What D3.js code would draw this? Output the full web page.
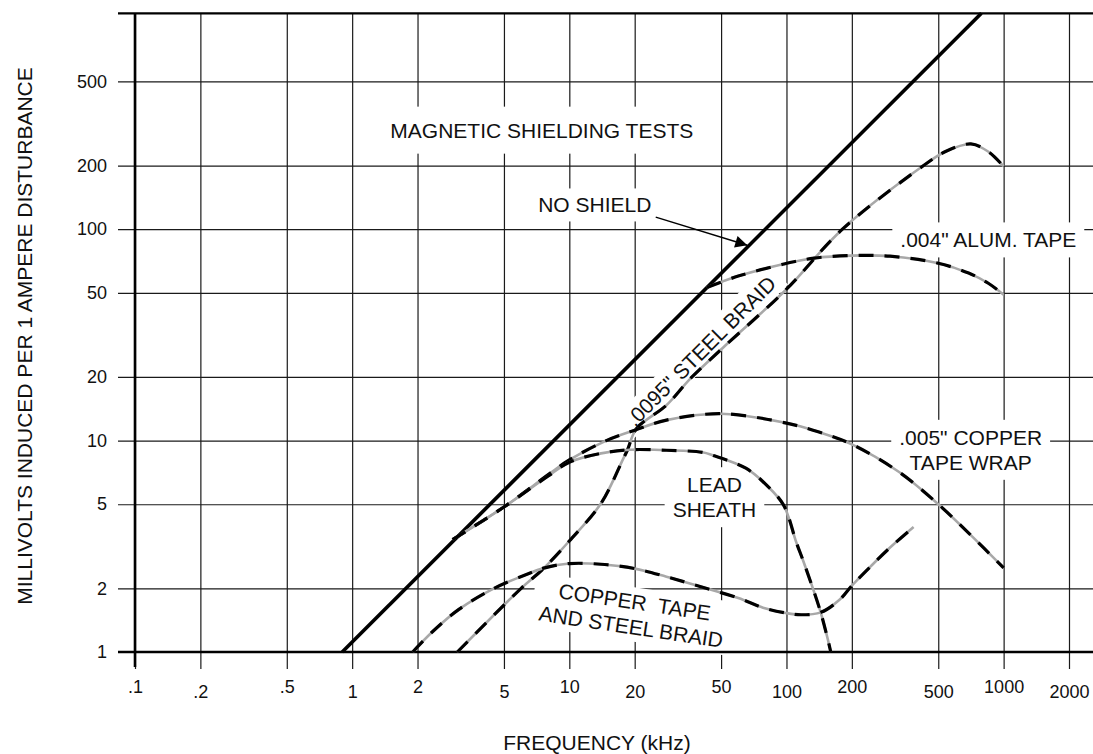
<!DOCTYPE html>
<html><head><meta charset="utf-8">
<script src="https://cdn.jsdelivr.net/npm/d3@7"></script>
<style>
html,body{margin:0;padding:0;background:#fff;}
svg{display:block;font-family:"Liberation Sans",Arial,Helvetica,sans-serif;}
</style></head><body>
<svg id="chart" width="1093" height="754"></svg>
<script>
// ---------- data (kHz, mV per 1 A disturbance) ----------
const xTicks = [0.1,0.2,0.5,1,2,5,10,20,50,100,200,500,1000,2000];
const xTickLabels = [".1",".2",".5","1","2","5","10","20","50","100","200","500","1000","2000"];
const yTicks = [1,2,5,10,20,50,100,200,500];
const yTickLabels = ["1","2","5","10","20","50","100","200","500"];

const noShield = [[0.9,1],[790,1050]];
const steelBraid = [[3.05,1],[6,2],[7.5,2.45],[10,3.35],[14,5.05],[17.7,8.2],[18.5,9.0],[20.4,11.4],[28,14.7],[36,19.6],[52,28],[100,52],[181,100],[428,200],[540,233],[707,253],[848,233],[1000,198]];
const alumTape = [[43,53],[60,60],[95,68],[134,73],[200,75],[300,74.5],[500,69],[690,62],[850,55.5],[1000,49]];
const copperWrap = [[2.9,3.4],[5,4.85],[8,6.9],[10,8.1],[14.8,10],[20,11.2],[28,12.5],[50,13.4],[100,12.1],[140,11],[200,9.6],[330,7.1],[500,5.0],[700,3.6],[1000,2.5]];
const leadSheath = [[2.9,3.4],[5,4.85],[8,6.8],[10,7.9],[14,8.7],[19,9.05],[28,9.0],[41,8.8],[46,8.5],[65,7.4],[81,6.15],[97,4.95],[111,3.3],[121,2.6],[144,1.53],[160,1.0]];
const copperSteel = [[1.9,1],[2.35,1.25],[3.1,1.59],[4.5,2.0],[6.3,2.32],[7.7,2.5],[10,2.62],[14,2.6],[20,2.48],[28,2.27],[40,2.04],[60,1.8],[78,1.62],[99,1.53],[117,1.5],[144,1.54],[176,1.77],[200,2.06],[245,2.55],[300,3.12],[385,3.9]];

const dashedSeries = [steelBraid, alumTape, copperWrap, leadSheath, copperSteel];

// annotation texts with anchors in data units (kHz, mV)
const annotations = [
  {lines:["MAGNETIC SHIELDING TESTS"], at:[7.47,271], rot:0, padY:12},
  {lines:["NO SHIELD"], at:[13.1,120], rot:0, padY:5},
  {lines:['.004" ALUM. TAPE'], at:[850,82], rot:0, padY:6},
  {lines:['.005" COPPER','TAPE WRAP'], at:[705,9.55], rot:0, padY:6},
  {lines:["LEAD","SHEATH"], at:[46.6,5.7], rot:0, padY:6},
  {lines:['.0095" STEEL BRAID'], at:[40.5,26.4], rot:-45, padY:3, center:true},
  {lines:["COPPER  TAPE","AND STEEL BRAID"], at:[19.6,1.5], rot:8.5, padY:3, center:true}
];
const arrowFrom = [25,114], arrowTo = [66,84];

// ---------- layout ----------
const svg = d3.select("#chart");
const W = 1093, H = 754;
const pLeft = 135, pRight = 1069, pTop = 13.3, pBottom = 652;
const tickOut = 17;

const x = d3.scaleLog().domain([0.1, 2000]).range([pLeft, pRight]);
const y = d3.scaleLog().domain([1, 1050]).range([pBottom, pTop]);

const grid = svg.append("g");
// horizontal grid via axis
const yAxis = d3.axisLeft(y).tickValues(yTicks)
  .tickFormat((d,i)=>yTickLabels[i])
  .tickSize(-(W - (pLeft - tickOut))).tickPadding(11);
const gy = grid.append("g").attr("transform", `translate(${pLeft - tickOut},0)`).call(yAxis);
gy.select(".domain").remove();
gy.selectAll(".tick line").attr("stroke","#1a1a1a").attr("stroke-width",1.2);
gy.selectAll(".tick text").attr("font-size",18).attr("fill","#111").attr("font-family",null);

// vertical grid via axis
const xAxis = d3.axisBottom(x).tickValues(xTicks)
  .tickFormat((d,i)=>xTickLabels[i])
  .tickSize(-((pBottom + tickOut) - pTop)).tickPadding(0);
const gx = grid.append("g").attr("transform", `translate(0,${pBottom + tickOut})`).call(xAxis);
gx.select(".domain").remove();
gx.selectAll(".tick line").attr("stroke","#1a1a1a").attr("stroke-width",1.2);
gx.selectAll(".tick text").attr("font-size",18).attr("fill","#111").attr("font-family",null)
  .attr("dy",0).attr("y",(d,i)=> i%2 ? 28.5 : 23.5);

// axis titles
svg.append("text").attr("x",597).attr("y",750).attr("text-anchor","middle")
  .attr("font-size",21).attr("fill","#111").text("FREQUENCY (kHz)");
svg.append("text").attr("transform","translate(32,336) rotate(-90)").attr("text-anchor","middle")
  .attr("font-size",21).attr("fill","#111").text("MILLIVOLTS INDUCED PER 1 AMPERE DISTURBANCE");

// layers
const bgLayer = svg.append("g");
const frame = svg.append("g");
const curveLayer = svg.append("g");
const textLayer = svg.append("g");
const lineH = 25;

// heavier frame lines (above label backgrounds)
frame.append("line").attr("x1",pLeft - tickOut).attr("x2",W).attr("y1",y(1)).attr("y2",y(1))
  .attr("stroke","#000").attr("stroke-width",2.6);
frame.append("line").attr("x1",pLeft - tickOut).attr("x2",W).attr("y1",pTop).attr("y2",pTop)
  .attr("stroke","#000").attr("stroke-width",2.2);
frame.append("line").attr("x1",x(0.1)).attr("x2",x(0.1)).attr("y1",pTop).attr("y2",pBottom + tickOut - 2)
  .attr("stroke","#000").attr("stroke-width",2.6);

annotations.forEach(a => {
  const g = textLayer.append("g")
    .attr("transform", `translate(${x(a.at[0])},${y(a.at[1])}) rotate(${a.rot})`);
  const t = g.append("text").attr("text-anchor","middle").attr("font-size",21).attr("fill","#111")
    .style("white-space","pre");
  const off = a.center ? -((a.lines.length - 1) * lineH) / 2 + 7 : 0;
  a.lines.forEach((s,i) => {
    t.append("tspan").attr("x",0).attr("y", off + i*lineH).text(s);
  });
  const bb = t.node().getBBox();
  bgLayer.append("rect")
    .attr("transform", `translate(${x(a.at[0])},${y(a.at[1])}) rotate(${a.rot})`)
    .attr("x", bb.x - 8).attr("y", bb.y - a.padY)
    .attr("width", bb.width + 16).attr("height", bb.height + 2*a.padY)
    .attr("fill","#fff");
});

// curves
const line = d3.line().x(d=>x(d[0])).y(d=>y(d[1])).curve(d3.curveCatmullRom.alpha(0.5));
curveLayer.append("path").datum(noShield).attr("d", d3.line().x(d=>x(d[0])).y(d=>y(d[1])))
  .attr("fill","none").attr("stroke","#000").attr("stroke-width",3.6);

dashedSeries.forEach(s => {
  curveLayer.append("path").datum(s).attr("d", line)
    .attr("fill","none").attr("stroke","#a8a8a8").attr("stroke-width",2.6);
  curveLayer.append("path").datum(s).attr("d", line)
    .attr("fill","none").attr("stroke","#000").attr("stroke-width",3.2)
    .attr("stroke-dasharray","15,11");
});

// arrow for NO SHIELD
svg.append("defs").append("marker").attr("id","arr").attr("viewBox","0 0 10 10")
  .attr("refX",10).attr("refY",5).attr("markerWidth",18).attr("markerHeight",12)
  .attr("markerUnits","userSpaceOnUse").attr("orient","auto")
  .append("path").attr("d","M0,0 L10,5 L0,10 Z").attr("fill","#000");
textLayer.append("line")
  .attr("x1", x(arrowFrom[0])).attr("y1", y(arrowFrom[1]))
  .attr("x2", x(arrowTo[0])).attr("y2", y(arrowTo[1]))
  .attr("stroke","#000").attr("stroke-width",1.5).attr("marker-end","url(#arr)");
</script>
</body></html>
